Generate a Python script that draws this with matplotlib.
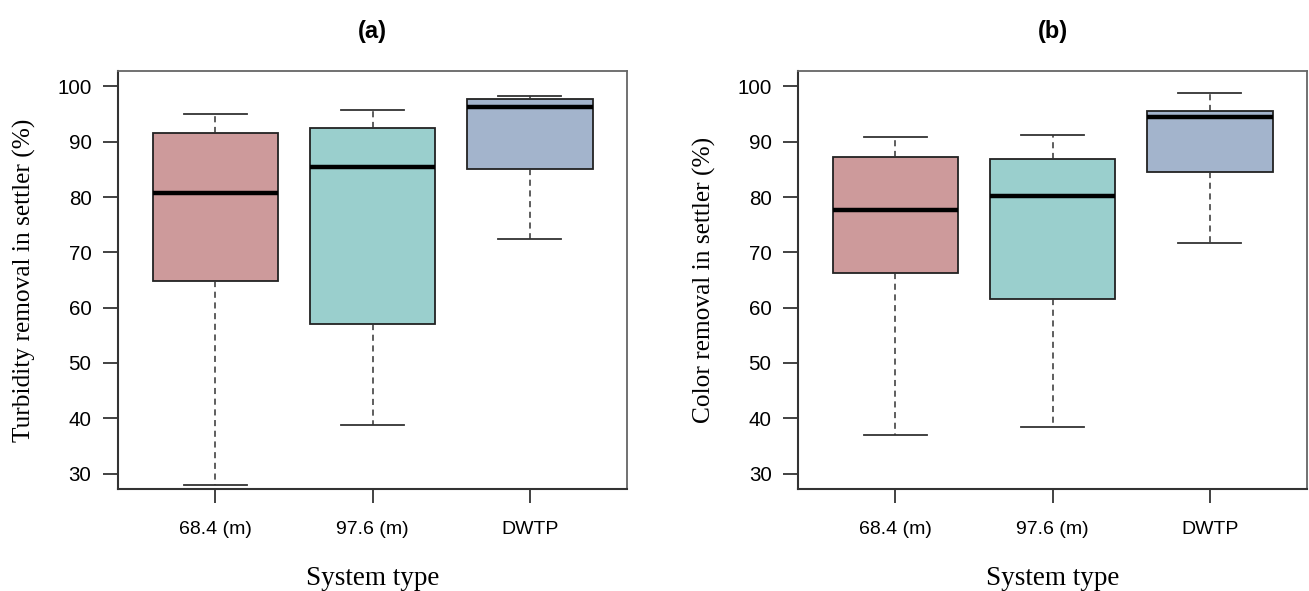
import numpy as np
import matplotlib.pyplot as plt

# grupos del eje x
systems = ["68.4 (m)", "97.6 (m)", "DWTP"]
box_colors = ["#CD9A9B", "#9ACFCD", "#A3B4CC"]

# (a) turbiedad: bigote inf, Q1, mediana, Q3, bigote sup
turb_low = [28.0, 38.7, 72.5]
turb_q1 = [64.9, 57.1, 85.1]
turb_med = [80.7, 85.4, 96.2]
turb_q3 = [91.6, 92.4, 97.7]
turb_high = [95.1, 95.7, 98.3]

# (b) color
color_low = [36.9, 38.5, 71.7]
color_q1 = [66.3, 61.5, 84.5]
color_med = [77.7, 80.1, 94.4]
color_q3 = [87.2, 86.8, 95.6]
color_high = [90.8, 91.3, 98.8]

serif = "Liberation Serif"
sans = "Liberation Sans"


def draw_panel(ax, low, q1, med, q3, high, ylabel, title):
    stats = []
    for i in range(len(systems)):
        stats.append(dict(whislo=low[i], q1=q1[i], med=med[i], q3=q3[i],
                          whishi=high[i], fliers=[]))
    bp = ax.bxp(stats, positions=[1, 2, 3], widths=0.8, patch_artist=True,
                showfliers=False,
                boxprops=dict(edgecolor="#222222", linewidth=1.3),
                medianprops=dict(color="black", linewidth=3.2, solid_capstyle="butt"),
                whiskerprops=dict(color="#333333", linewidth=1.1, linestyle=(0, (4, 3))),
                capprops=dict(color="#333333", linewidth=1.3),
                capwidths=0.4)
    for patch, c in zip(bp["boxes"], box_colors):
        patch.set_facecolor(c)

    ax.set_xlim(0.38, 3.62)
    ax.set_ylim(27.2, 102.8)
    ax.set_xticks([1, 2, 3])
    ax.set_xticklabels(systems, fontfamily=sans, fontsize=14)
    ax.set_yticks(np.arange(30, 101, 10))
    ax.set_yticklabels([str(v) for v in range(30, 101, 10)], fontfamily=sans, fontsize=14.8)
    ax.tick_params(axis="y", length=11, width=1.3, color="#333333", pad=8)
    ax.tick_params(axis="x", length=10, width=1.3, color="#333333", pad=13)
    for side in ["left", "bottom"]:
        ax.spines[side].set_color("#333333")
        ax.spines[side].set_linewidth(1.5)
    for side in ["top", "right"]:
        ax.spines[side].set_color("#666666")
        ax.spines[side].set_linewidth(1.3)
    ax.set_ylabel(ylabel, fontfamily=serif, fontsize=18.3, labelpad=15)
    ax.set_xlabel("System type", fontfamily=serif, fontsize=19.5, labelpad=20)
    ax.set_title(title, fontfamily=sans, fontweight="bold", fontsize=17, pad=24)


fig = plt.figure(figsize=(13.09, 5.91), dpi=100)
ax1 = fig.add_axes([0.0901, 0.1726, 0.389, 0.7073])
ax2 = fig.add_axes([0.6096, 0.1726, 0.389, 0.7073])

draw_panel(ax1, turb_low, turb_q1, turb_med, turb_q3, turb_high,
           "Turbidity removal in settler (%)", "(a)")
draw_panel(ax2, color_low, color_q1, color_med, color_q3, color_high,
           "Color removal in settler (%)", "(b)")

fig.savefig("out.png", dpi=100)
